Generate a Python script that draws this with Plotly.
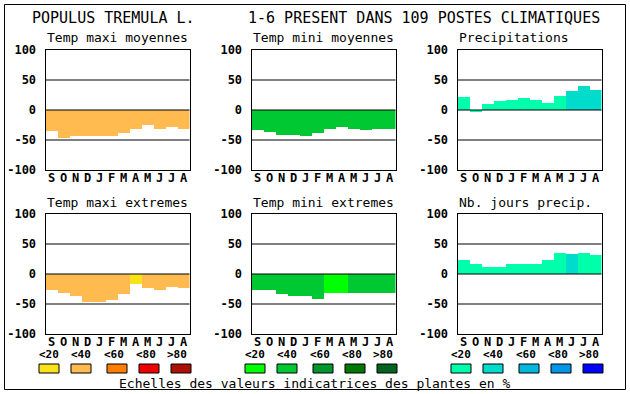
import plotly.graph_objects as go

W, H = 630, 394

months = ["S", "O", "N", "D", "J", "F", "M", "A", "M", "J", "J", "A"]
y_ticks = [-100, -50, 0, 50, 100]
class_labels = ["<20", "<40", "<60", "<80", ">80"]

# Palettes (class 0..4)
pal_maxi = ["#f8e21c", "#ffbb50", "#ff7d00", "#ee0000", "#ad1000"]
pal_mini = ["#00ff00", "#00c832", "#00962d", "#007800", "#006420"]
pal_prec = ["#00ffaa", "#00dccc", "#00b9dd", "#0096e8", "#0000ff"]

# Values
tmax_moy = [-35, -46, -44, -44, -44, -44, -38, -31, -25, -31, -28, -31]
tmax_moy_cls = [1, 1, 1, 1, 1, 1, 1, 1, 1, 1, 1, 1]

tmin_moy = [-33, -36, -41, -41, -43, -38, -31, -28, -31, -33, -31, -31]
tmin_moy_cls = [1, 1, 1, 1, 1, 1, 1, 1, 1, 1, 1, 1]

precip = [22, -2, 10, 15, 17, 20, 17, 12, 23, 32, 40, 33]
precip_cls = [0, 0, 0, 0, 0, 0, 0, 0, 0, 1, 1, 1]

tmax_ext = [-27, -31, -36, -47, -46, -44, -33, -16, -23, -26, -21, -24]
tmax_ext_cls = [1, 1, 1, 1, 1, 1, 1, 0, 1, 1, 1, 1]

tmin_ext = [-27, -27, -34, -36, -37, -41, -31, -32, -32, -32, -32, -32]
tmin_ext_cls = [1, 1, 1, 1, 1, 1, 0, 0, 1, 1, 1, 1]

nb_jours = [24, 16, 12, 12, 16, 17, 17, 24, 35, 34, 35, 32]
nb_jours_cls = [0, 0, 0, 0, 0, 0, 0, 0, 0, 1, 0, 0]

panels = [
    ("Temp maxi moyennes", tmax_moy, tmax_moy_cls, pal_maxi),
    ("Temp mini moyennes", tmin_moy, tmin_moy_cls, pal_mini),
    ("Precipitations", precip, precip_cls, pal_prec),
    ("Temp maxi extremes", tmax_ext, tmax_ext_cls, pal_maxi),
    ("Temp mini extremes", tmin_ext, tmin_ext_cls, pal_mini),
    ("Nb. jours precip.", nb_jours, nb_jours_cls, pal_prec),
]

# layout geometry in pixels
col_x = [(45.5, 189.5), (251.5, 395.5), (457.5, 601.5)]
row_y = [(50, 170), (214, 334)]

def fx(px):
    return px / W

def fy(px):
    return 1 - px / H

MONO = "DejaVu Sans Mono"

fig = go.Figure()
shapes = []
annotations = []

for i, (title, vals, cls, pal) in enumerate(panels):
    r, c = divmod(i, 3)
    n = i + 1
    xa = "x" if n == 1 else f"x{n}"
    ya = "y" if n == 1 else f"y{n}"
    fig.add_trace(go.Bar(
        x=list(range(len(vals))), y=vals,
        marker=dict(color=[pal[k] for k in cls], line=dict(width=0)),
        xaxis=xa, yaxis=ya, showlegend=False, hoverinfo="skip",
    ))
    x0, x1 = col_x[c]
    y0, y1 = row_y[r]
    fig.layout[f"xaxis{'' if n == 1 else n}"] = dict(
        domain=[fx(x0), fx(x1)], anchor=ya, range=[-0.5, 11.5], automargin=False,
        tickvals=list(range(12)), ticktext=months, showgrid=False, zeroline=False,
        showline=True, mirror=True, linecolor="black", linewidth=1,
        ticks="", tickfont=dict(family=MONO, size=12, color="black", weight="bold"),
        ticklabelstandoff=-3, fixedrange=True,
    )
    fig.layout[f"yaxis{'' if n == 1 else n}"] = dict(
        domain=[fy(y1), fy(y0)], anchor=xa, range=[-100, 100], automargin=False,
        tickvals=y_ticks, ticktext=[str(v) for v in y_ticks], showgrid=False, zeroline=False,
        showline=True, mirror=True, linecolor="black", linewidth=1,
        ticks="", tickfont=dict(family=MONO, size=12, color="black", weight="bold"),
        ticklabelstandoff=6, fixedrange=True,
    )
    for v in y_ticks[1:-1]:
        shapes.append(dict(type="line", xref=f"{xa} domain", yref=ya, x0=0, x1=1, y0=v, y1=v,
                           line=dict(color="black", width=1), layer="above"))
    annotations.append(dict(text=title, xref="paper", yref="paper", x=fx(x0 - 1), y=fy(y0 - 12),
                            xanchor="left", yanchor="middle", showarrow=False,
                            font=dict(family=MONO, size=13, color="black")))

# legend swatches and labels
group_offsets = [0, 206, 412]
sw_left = [39, 71, 107, 139, 171]
lab_center = [49, 81, 114, 146, 177]
palettes = [pal_maxi, pal_mini, pal_prec]
for g, off in enumerate(group_offsets):
    for k in range(5):
        xl = sw_left[k] + off
        shapes.append(dict(type="rect", xref="paper", yref="paper",
                           x0=fx(xl), x1=fx(xl + 20), y0=fy(373), y1=fy(364),
                           fillcolor=palettes[g][k], line=dict(color="black", width=1), layer="above"))
        annotations.append(dict(text=class_labels[k], xref="paper", yref="paper",
                                x=fx(lab_center[k] + off), y=fy(354), xanchor="center", yanchor="middle",
                                showarrow=False, font=dict(family=MONO, size=11, color="black", weight="bold")))

annotations.append(dict(text="Echelles des valeurs indicatrices des plantes en %", xref="paper", yref="paper",
                        x=fx(315), y=fy(383), xanchor="center", yanchor="middle", showarrow=False,
                        font=dict(family=MONO, size=13, color="black")))
annotations.append(dict(text="POPULUS TREMULA L.", xref="paper", yref="paper",
                        x=fx(30), y=fy(18), xanchor="left", yanchor="middle", showarrow=False,
                        font=dict(family=MONO, size=15, color="black")))
annotations.append(dict(text="1-6 PRESENT DANS 109 POSTES CLIMATIQUES", xref="paper", yref="paper",
                        x=fx(246), y=fy(18), xanchor="left", yanchor="middle", showarrow=False,
                        font=dict(family=MONO, size=15, color="black")))

# outer frame
shapes.append(dict(type="rect", xref="paper", yref="paper", x0=fx(4.5), x1=fx(625.5), y0=fy(389.5), y1=fy(4.5),
                   line=dict(color="black", width=1), fillcolor="rgba(0,0,0,0)", layer="above"))

fig.update_layout(
    template="none",
    width=W, height=H, autosize=False,
    margin=dict(l=0, r=0, t=0, b=0, pad=0, autoexpand=False),
    paper_bgcolor="white", plot_bgcolor="white",
    bargap=0, barmode="relative",
    shapes=shapes, annotations=annotations,
    showlegend=False,
)

fig.write_html("out.html", config={"displayModeBar": False},
               post_script="document.body.style.margin='0';document.body.style.overflow='hidden';")
